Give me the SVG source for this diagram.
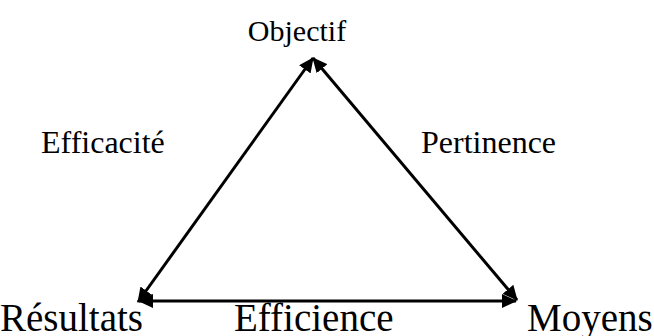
<svg xmlns="http://www.w3.org/2000/svg" width="654" height="336" viewBox="0 0 654 336">
<defs>
  <marker id="ah" markerUnits="userSpaceOnUse" markerWidth="16" markerHeight="14" refX="14" refY="7" orient="auto-start-reverse" viewBox="0 0 16 14">
    <path d="M0,0 L15,7 L0,14 Z" fill="#000"/>
  </marker>
</defs>
<rect width="654" height="336" fill="#fff"/>
<g id="connectors" stroke="#000" stroke-width="3" fill="none">
  <line x1="313" y1="58" x2="138" y2="302" marker-start="url(#ah)" marker-end="url(#ah)"/>
  <line x1="313" y1="58" x2="517" y2="300" marker-start="url(#ah)" marker-end="url(#ah)"/>
  <line x1="139" y1="301" x2="516" y2="301" marker-start="url(#ah)" marker-end="url(#ah)"/>
</g>
<text id="objectif" font-family="Liberation Serif" font-size="30" x="297" y="41" text-anchor="middle">Objectif</text>
<text id="efficacite" font-family="Liberation Serif" font-size="32" x="41" y="153">Efficacité</text>
<text id="pertinence" font-family="Liberation Serif" font-size="32" x="421" y="153">Pertinence</text>
<text id="resultats" font-family="Liberation Serif" font-size="39" x="0" y="331">Résultats</text>
<text id="efficience" font-family="Liberation Serif" font-size="39" x="234" y="331">Efficience</text>
<text id="moyens" font-family="Liberation Serif" font-size="39" x="527" y="331">Moyens</text>
</svg>
